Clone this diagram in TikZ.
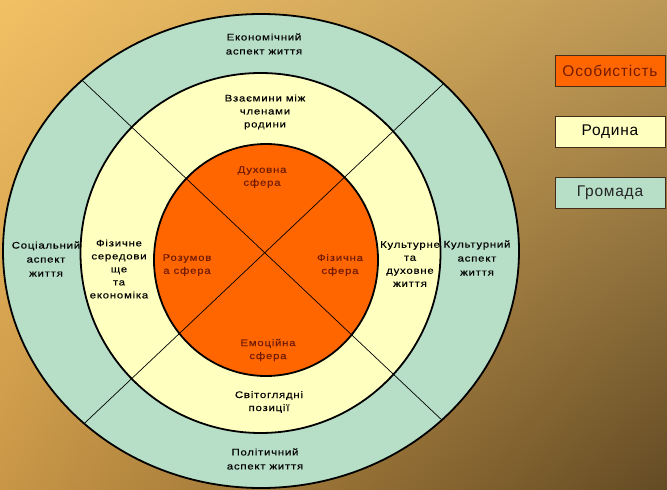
\documentclass[tikz,border=0pt]{standalone}
\usepackage{fontspec}
\usetikzlibrary{shadings}
\setmainfont{Liberation Sans}
\newfontfamily\labfont[FakeStretch=1.2,LetterSpace=8,FakeBold=0.3]{Liberation Sans}
\newfontfamily\legfont[LetterSpace=5]{Liberation Sans}
\definecolor{ringteal}{RGB}{183,222,198}
\definecolor{ringyellow}{RGB}{255,255,192}
\definecolor{coreorange}{RGB}{255,102,0}
\definecolor{coretext}{RGB}{115,28,5}
\definecolor{edgebrown}{RGB}{70,45,25}
\definecolor{bgUL}{RGB}{242,192,100}
\definecolor{bgUR}{RGB}{188,152,86}
\definecolor{bgLL}{RGB}{200,150,70}
\definecolor{bgLR}{RGB}{100,75,36}
\begin{document}
\begin{tikzpicture}[x=1pt,y=-1pt,
  lab/.style={font=\labfont\fontsize{9.5}{13}\selectfont, align=center, inner sep=0pt, text=black},
  labwide/.style={lab, font=\labfont\fontsize{9.5}{14}\selectfont},
  corelab/.style={lab, text=coretext},
  ringborder/.style={draw=black, line width=1.8pt},
  divider/.style={draw=black, line width=0.7pt},
  legbox/.style={draw=edgebrown, line width=1pt, minimum width=110pt, minimum height=31pt, inner sep=0pt, font=\legfont\fontsize{15.5}{18}\selectfont}
]
\useasboundingbox (0,0) rectangle (667,490);
\shade[upper left=bgUL, upper right=bgUR, lower left=bgLL, lower right=bgLR] (0,0) rectangle (667,490);

% rings
\coordinate (outerC) at (261,251);
\coordinate (midC) at (260.5,253);
\coordinate (innerC) at (266,260);
\fill[ringteal] (outerC) ellipse [x radius=258pt, y radius=237pt];
\draw[ringborder] (outerC) ellipse [x radius=258pt, y radius=237pt];
\fill[ringyellow] (midC) circle [radius=180pt];
\draw[ringborder] (midC) circle [radius=180pt];
\fill[coreorange] (innerC) ellipse [x radius=112pt, y radius=116pt];
\draw[ringborder] (innerC) ellipse [x radius=112pt, y radius=116pt];

% dividers
\coordinate (d1a) at (-24,-20);
\coordinate (d1b) at (553,525);
\coordinate (d2a) at (552,-19);
\coordinate (d2b) at (-22,524);
\begin{scope}
  \clip (outerC) ellipse [x radius=257pt, y radius=236pt];
  \draw[divider] (d1a) -- (d1b);
  \draw[divider] (d2a) -- (d2b);
\end{scope}

% outer ring labels
\node[labwide] (econ) at (264,44) {Економічний\\аспект життя};
\node[labwide] (soc) at (46,259) {Соціальний\\аспект\\життя};
\node[labwide] (cultA) at (477,258) {Культурний\\аспект\\життя};
\node[labwide] (pol) at (265,459) {Політичний\\аспект життя};

% middle ring labels
\node[lab] (rel) at (265,112) {Взаємини між\\членами\\родини};
\node[lab] (phys) at (119,269) {Фізичне\\середови\\ще\\та\\економіка};
\node[lab] (cult) at (410,264) {Культурне\\та\\духовне\\життя};
\node[lab] (world) at (269,402) {Світоглядні\\позиції};

% core labels
\node[corelab] (spirit) at (262,177) {Духовна\\сфера};
\node[corelab] (mind) at (187,265) {Розумов\\а сфера};
\node[corelab] (body) at (340,265) {Фізична\\сфера};
\node[corelab] (emo) at (268,350) {Емоційна\\сфера};

% legend
\node[legbox, fill=coreorange, text=coretext] (legP) at (610,70.5) {Особистість};
\node[legbox, fill=ringyellow, text=black] (legF) at (610,131.5) {Родина};
\node[legbox, fill=ringteal, text=black!85] (legC) at (610,193) {Громада};
\end{tikzpicture}
\end{document}
